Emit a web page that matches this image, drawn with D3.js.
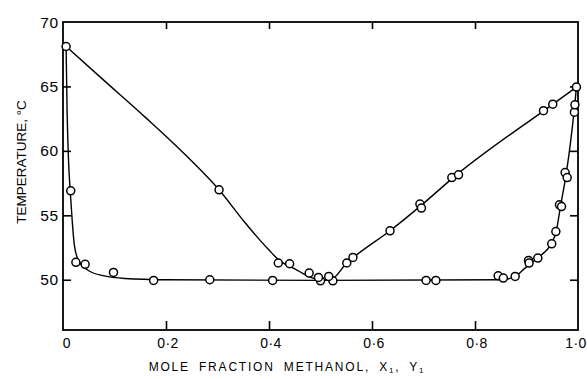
<!DOCTYPE html>
<html><head><meta charset="utf-8">
<script src="https://cdn.jsdelivr.net/npm/d3@7"></script>
<style>
body{margin:0;background:#fff}
svg{display:block}
text{font-family:"Liberation Sans",Arial,Helvetica,sans-serif;fill:#000}
</style>
</head><body>
<svg id="chart" width="587" height="379"></svg>
<script>
// Axis ticks and labels
const xTicks = [0, 0.2, 0.4, 0.6, 0.8, 1.0];
const xTickLabels = ["0", "0·2", "0·4", "0·6", "0·8", "1·0"];
const yTicks = [50, 55, 60, 65, 70];
const yTickLabels = ["50", "55", "60", "65", "70"];

// Measured liquid-phase compositions x1 and temperatures (°C)
const liquidX = [0.015, 0.025, 0.043, 0.098, 0.176, 0.285, 0.407, 0.500, 0.524, 0.705, 0.724,
  0.845, 0.855, 0.878, 0.904, 0.905, 0.922, 0.949, 0.957, 0.964, 0.968, 0.975, 0.979, 0.993, 0.994];
const liquidT = [56.9, 51.35, 51.2, 50.57, 49.95, 50.0, 49.95, 49.92, 49.92, 49.95, 49.95,
  50.31, 50.13, 50.26, 51.5, 51.29, 51.68, 52.79, 53.74, 55.81, 55.68, 58.32, 57.93, 63.0, 63.57];

// Measured vapour-phase compositions y1 and temperatures (°C)
const vaporX = [0.006, 0.303, 0.418, 0.44, 0.478, 0.496, 0.516, 0.551, 0.563, 0.635, 0.693, 0.696,
  0.755, 0.768, 0.933, 0.951, 0.997];
const vaporT = [68.1, 56.98, 51.3, 51.24, 50.52, 50.18, 50.26, 51.3, 51.73, 53.8, 55.87, 55.56,
  57.93, 58.14, 63.12, 63.62, 64.95];

// Smoothed bubble-point (liquid) curve
const liquidCurveX = [0.006, 0.008, 0.011, 0.014, 0.018, 0.022, 0.03, 0.05, 0.08, 0.12, 0.2, 0.5,
  0.85, 0.875, 0.9, 0.925, 0.948, 0.958, 0.966, 0.977, 0.985, 0.993, 0.997];
const liquidCurveT = [68.1, 63.0, 59.0, 56.9, 54.5, 52.7, 51.5, 50.7, 50.3, 50.1, 50.0, 49.95,
  50.0, 50.2, 51.0, 51.8, 52.8, 53.8, 55.7, 58.2, 60.5, 63.3, 64.95];

// Smoothed dew-point (vapour) curve
const vaporCurveX = [0.006, 0.08, 0.16, 0.24, 0.303, 0.35, 0.4, 0.42, 0.45, 0.48, 0.505, 0.52, 0.55,
  0.563, 0.635, 0.695, 0.76, 0.94, 0.997];
const vaporCurveT = [68.1, 65.45, 62.6, 59.6, 56.98, 54.6, 52.3, 51.5, 50.85, 50.2, 49.95, 50.0, 51.25,
  51.7, 53.8, 55.75, 58.0, 63.3, 64.95];

const W = 587, H = 379;
const m = {left: 63, right: 9, top: 22, bottom: 49};
const svg = d3.select("#chart");

const x = d3.scaleLinear().domain([0, 1]).range([m.left, W - m.right]);
const y = d3.scaleLinear().domain([46.1, 70]).range([H - m.bottom, m.top]);

const ink = "#000";

// Frame
svg.append("rect")
  .attr("x", x(0)).attr("y", y(70))
  .attr("width", x(1) - x(0)).attr("height", y(46.1) - y(70))
  .attr("fill", "none").attr("stroke", ink).attr("stroke-width", 1.8);

// Inward ticks on all four sides
const innerX = xTicks.filter(d => d > 0 && d < 1);
const innerY = yTicks.filter(d => d < 70);
const bottomAxis = d3.axisBottom(x).tickValues(innerX).tickSize(-9).tickFormat("");
const topAxis = d3.axisTop(x).tickValues(innerX).tickSize(-7).tickFormat("");
const leftAxis = d3.axisLeft(y).tickValues(innerY).tickSize(-8).tickFormat("");
const rightAxis = d3.axisRight(y).tickValues(innerY).tickSize(-8).tickFormat("");
[[bottomAxis, `translate(0,${y(46.1)})`], [topAxis, `translate(0,${y(70)})`],
 [leftAxis, `translate(${x(0)},0)`], [rightAxis, `translate(${x(1)},0)`]].forEach(([ax, tr]) => {
  const g = svg.append("g").attr("transform", tr).call(ax);
  g.select(".domain").remove();
  g.selectAll("line").attr("stroke", ink).attr("stroke-width", 1.6);
});

// Tick labels
svg.append("g").selectAll("text").data(xTicks).join("text")
  .attr("x", (d, i) => x(d) + (i === 0 ? 4 : i === xTicks.length - 1 ? -2 : 2))
  .attr("y", 348)
  .attr("text-anchor", "middle")
  .attr("font-size", 14)
  .attr("letter-spacing", 0.5)
  .text((d, i) => xTickLabels[i]);

svg.append("g").selectAll("text").data(yTicks).join("text")
  .attr("x", 59)
  .attr("y", d => y(d) + 5.5)
  .attr("text-anchor", "end")
  .attr("font-size", 15.5)
  .attr("letter-spacing", 0.8)
  .text((d, i) => yTickLabels[i]);

// Axis titles
const xTitle = svg.append("text")
  .attr("x", 287).attr("y", 371)
  .attr("text-anchor", "middle")
  .attr("font-size", 12)
  .attr("letter-spacing", 1.8)
  .attr("word-spacing", 4);
xTitle.append("tspan").text("MOLE FRACTION METHANOL, X");
xTitle.append("tspan").attr("font-size", 8).attr("dy", 2).text("1");
xTitle.append("tspan").attr("dy", -2).text(", Y");
xTitle.append("tspan").attr("font-size", 8).attr("dy", 2).text("1");

svg.append("text")
  .attr("transform", "translate(26,162) rotate(-90)")
  .attr("text-anchor", "middle")
  .attr("font-size", 13.5)
  .text("TEMPERATURE, °C");

// Curves
const line = d3.line().x(d => x(d[0])).y(d => y(d[1])).curve(d3.curveMonotoneX);
const liquidCurve = liquidCurveX.map((v, i) => [v, liquidCurveT[i]]);
const vaporCurve = vaporCurveX.map((v, i) => [v, vaporCurveT[i]]);
[liquidCurve, vaporCurve].forEach(pts => {
  svg.append("path").datum(pts)
    .attr("d", line)
    .attr("fill", "none").attr("stroke", ink).attr("stroke-width", 1.4);
});

// Measured points as open circles
const pts = liquidX.map((v, i) => [v, liquidT[i]])
  .concat(vaporX.map((v, i) => [v, vaporT[i]]));
svg.append("g").selectAll("circle").data(pts).join("circle")
  .attr("cx", d => x(d[0])).attr("cy", d => y(d[1]))
  .attr("r", 4)
  .attr("fill", "#fff").attr("stroke", ink).attr("stroke-width", 1.5);
</script>
</body></html>
